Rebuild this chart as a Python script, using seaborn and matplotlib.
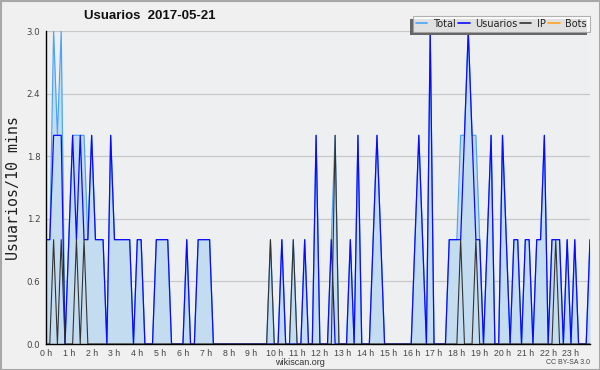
import numpy as np
import pandas as pd
import matplotlib
matplotlib.use("Agg")
import matplotlib.pyplot as plt
import seaborn as sns
from matplotlib.patches import Rectangle
from matplotlib.lines import Line2D
from matplotlib.ticker import MultipleLocator, FixedLocator

title = "Usuarios  2017-05-21"
y_label = "Usuarios/10 mins"
series_names = ["Total", "Usuarios", "IP", "Bots"]
hour_labels = [f"{h} h" for h in range(24)]

# one value per 10 minutes, 12 values per row (2 hours)
total = [
    1, 1, 3, 2, 3, 0, 1, 2, 2, 2, 2, 1,
    2, 1, 1, 1, 0, 2, 1, 1, 1, 1, 1, 0,
    1, 1, 0, 0, 0, 1, 1, 1, 1, 0, 0, 0,
    0, 1, 0, 0, 1, 1, 1, 1, 0, 0, 0, 0,
    0, 0, 0, 0, 0, 0, 0, 0, 0, 0, 0, 1,
    0, 0, 1, 0, 0, 1, 0, 0, 1, 0, 0, 2,
    0, 0, 0, 1, 2, 0, 0, 0, 1, 0, 2, 0,
    0, 0, 1, 2, 1, 0, 0, 0, 0, 0, 0, 0,
    0, 1, 2, 1, 0, 3, 0, 0, 0, 0, 1, 1,
    1, 2, 2, 3, 2, 2, 1, 0, 1, 2, 0, 0,
    2, 1, 0, 1, 1, 0, 1, 1, 0, 1, 1, 2,
    0, 1, 1, 1, 0, 1, 0, 1, 0, 0, 0, 1,
]
usuarios = [
    1, 1, 2, 2, 2, 0, 1, 2, 1, 2, 1, 1,
    2, 1, 1, 1, 0, 2, 1, 1, 1, 1, 1, 0,
    1, 1, 0, 0, 0, 1, 1, 1, 1, 0, 0, 0,
    0, 1, 0, 0, 1, 1, 1, 1, 0, 0, 0, 0,
    0, 0, 0, 0, 0, 0, 0, 0, 0, 0, 0, 0,
    0, 0, 1, 0, 0, 0, 0, 0, 1, 0, 0, 2,
    0, 0, 0, 1, 0, 0, 0, 0, 1, 0, 2, 0,
    0, 0, 1, 2, 1, 0, 0, 0, 0, 0, 0, 0,
    0, 1, 2, 1, 0, 3, 0, 0, 0, 0, 1, 1,
    1, 1, 2, 3, 2, 1, 1, 0, 1, 2, 0, 0,
    2, 1, 0, 1, 1, 0, 1, 1, 0, 1, 1, 2,
    0, 1, 1, 1, 0, 1, 0, 1, 0, 0, 0, 1,
]
ip = [
    0, 0, 1, 0, 1, 0, 0, 0, 1, 0, 1, 0,
    0, 0, 0, 0, 0, 0, 0, 0, 0, 0, 0, 0,
    0, 0, 0, 0, 0, 0, 0, 0, 0, 0, 0, 0,
    0, 0, 0, 0, 0, 0, 0, 0, 0, 0, 0, 0,
    0, 0, 0, 0, 0, 0, 0, 0, 0, 0, 0, 1,
    0, 0, 0, 0, 0, 1, 0, 0, 0, 0, 0, 0,
    0, 0, 0, 0, 2, 0, 0, 0, 0, 0, 0, 0,
    0, 0, 0, 0, 0, 0, 0, 0, 0, 0, 0, 0,
    0, 0, 0, 0, 0, 0, 0, 0, 0, 0, 0, 0,
    0, 1, 0, 0, 0, 1, 0, 0, 0, 0, 0, 0,
    0, 0, 0, 0, 0, 0, 0, 0, 0, 0, 0, 0,
    0, 0, 1, 0, 0, 0, 0, 0, 0, 0, 0, 0,
]
bots = [0] * 144

colors = {"Total": "#4aa3f5", "Usuarios": "#0a0aff", "IP": "#333333", "Bots": "#ffa020"}
fill_color = "#c4dcf0"

hours = np.arange(len(total)) / 6.0
df = pd.DataFrame({"hour": hours, "Total": total, "Usuarios": usuarios,
                   "IP": ip, "Bots": bots})

sns.set_style("white")
plt.rcParams["font.family"] = ["Liberation Sans", "DejaVu Sans"]

fig = plt.figure(figsize=(6, 3.7), dpi=100, facecolor="#f0f0f0")
ax = fig.add_axes([46 / 600, 1 - 344 / 370, 544 / 600, 313 / 370])
ax.set_facecolor("#eeeff1")

ax.fill_between(df["hour"], df["Total"], 0, color=fill_color, linewidth=0, zorder=1)
for name, lw in [("Total", 0.85), ("Usuarios", 0.9), ("IP", 0.8), ("Bots", 0.8)]:
    sns.lineplot(data=df, x="hour", y=name, ax=ax, color=colors[name],
                 linewidth=lw, zorder=2, legend=False)

ax.set_xlim(0, hours[-1])
ax.set_ylim(0, 3.0)

ax.yaxis.set_major_locator(MultipleLocator(0.6))
ax.yaxis.set_minor_locator(MultipleLocator(0.15))
ax.set_yticklabels([f"{v:.1f}" for v in ax.get_yticks()], family="DejaVu Sans")
ax.xaxis.set_major_locator(FixedLocator(list(range(24))))
ax.set_xticklabels(hour_labels)
ax.xaxis.set_minor_locator(MultipleLocator(1 / 6))

ax.grid(axis="y", which="major", color="#c8c8c8", linewidth=0.9, zorder=0)
ax.set_axisbelow(True)
for s in ["top", "right"]:
    ax.spines[s].set_visible(False)
for s in ["left", "bottom"]:
    ax.spines[s].set_color("black")
    ax.spines[s].set_linewidth(1.0)
    ax.spines[s].set_zorder(5)

ax.tick_params(axis="both", which="major", direction="out", length=3.2, width=0.8,
               labelsize=6.2, colors="black", labelcolor="#444444", pad=1.0)
ax.tick_params(axis="both", which="minor", direction="out", length=2.2, width=0.8,
               colors="black")
ax.tick_params(axis="x", which="major", labelsize=6.3, pad=0.5)
ax.set_xlabel("")
ax.set_ylabel(y_label, family="DejaVu Sans Mono", fontsize=10.8, color="#222222", labelpad=4)

handles = [Line2D([0], [0], color=colors[n], linewidth=1.2) for n in series_names]
leg = ax.legend(handles, series_names, loc="upper right", bbox_to_anchor=(1.0, 1.048),
                ncol=4, frameon=True, fancybox=False, shadow=False,
                prop={"family": "DejaVu Sans", "size": 7},
                handlelength=1.15, handletextpad=0.6, columnspacing=0.25,
                borderpad=0.3, borderaxespad=0.0)
leg.get_frame().set_edgecolor("#a0a0a0")
leg.get_frame().set_facecolor("white")
leg.get_frame().set_linewidth(0.8)
leg.set_zorder(10)
for t in leg.get_texts():
    t.set_color("#222222")

fig.text(150 / 600, 1 - 16 / 370, title, fontsize=9.5, fontweight="bold",
         ha="center", va="center", color="#111111")
fig.text(300 / 600, 1 - 362.5 / 370, "wikiscan.org", fontsize=6.5, ha="center",
         va="center", color="#333333")
fig.text(590 / 600, 1 - 362.5 / 370, "CC BY-SA 3.0", fontsize=5, ha="right", va="center",
         color="#444444")

# legend shadow (offset left/down), drawn inside the axes just below the legend
fig.canvas.draw()
bb = leg.get_window_extent()
shadow = Rectangle((bb.x0 - 3, bb.y0 - 3), bb.width, bb.height, transform=None,
                   facecolor="#666666", edgecolor="none", zorder=9, clip_on=False)
ax.add_artist(shadow)
fig.add_artist(Rectangle((0.5 / 600, 0.5 / 370), 599 / 600, 369 / 370,
                         transform=fig.transFigure, fill=False,
                         edgecolor="#a8a8a8", linewidth=1.5, zorder=20))

fig.savefig("out.png", dpi=100, facecolor=fig.get_facecolor())
